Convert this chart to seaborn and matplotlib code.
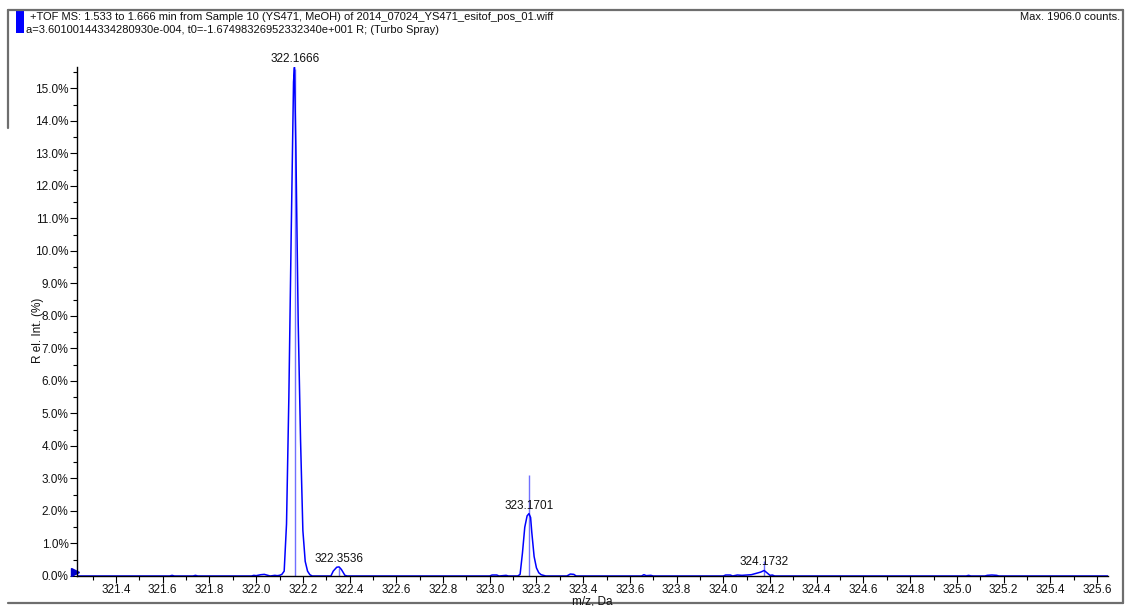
import matplotlib
matplotlib.use("Agg")
import matplotlib.pyplot as plt
import matplotlib.ticker as mticker
from matplotlib.lines import Line2D
from matplotlib.patches import Rectangle
import pandas as pd
import seaborn as sns

# ---------------------------
# Data
# ---------------------------

# profile trace, m/z (Da) and relative intensity (%)
profile_mz = [321.23, 321.63, 321.64, 321.65, 321.73, 321.74, 321.75,
              321.98, 321.99, 322.00, 322.02, 322.035, 322.05, 322.06,
              322.08, 322.09, 322.10, 322.11, 322.12, 322.13, 322.14,
              322.15, 322.16, 322.164, 322.17, 322.18, 322.19, 322.20,
              322.21, 322.22, 322.23, 322.24,
              322.32, 322.33, 322.345, 322.355, 322.365, 322.38, 322.39,
              323.00, 323.01, 323.03, 323.04, 323.07, 323.08,
              323.12, 323.13, 323.14, 323.15, 323.16, 323.168, 323.175,
              323.18, 323.19, 323.20, 323.21, 323.22, 323.24,
              323.33, 323.345, 323.36, 323.37,
              323.65, 323.66, 323.67, 323.69, 323.70,
              324.00, 324.01, 324.03, 324.04, 324.06, 324.08, 324.10,
              324.12, 324.14, 324.16, 324.175, 324.19, 324.20, 324.21, 324.22,
              325.04, 325.05, 325.06, 325.12, 325.13, 325.15, 325.17, 325.18,
              325.65]
profile_int = [0, 0, 0.02, 0, 0, 0.02, 0,
               0, 0.02, 0.01, 0.04, 0.05, 0.02, 0,
               0.02, 0.01, 0.02, 0.05, 0.15, 1.6, 5.5,
               10.5, 15.2, 15.65, 13.2, 7.8, 4.2, 1.4,
               0.45, 0.15, 0.04, 0,
               0, 0.15, 0.27, 0.28, 0.2, 0.02, 0,
               0, 0.03, 0.03, 0, 0.02, 0,
               0, 0.05, 0.7, 1.5, 1.85, 1.92, 1.8,
               1.35, 0.6, 0.25, 0.1, 0.04, 0,
               0, 0.06, 0.05, 0,
               0, 0.04, 0.01, 0.02, 0,
               0, 0.03, 0.03, 0, 0.03, 0.02, 0.03,
               0.04, 0.08, 0.12, 0.17, 0.08, 0.02, 0.03, 0,
               0, 0.02, 0, 0, 0.02, 0.03, 0.02, 0,
               0]

# centroid sticks
stick_mz = [322.1666, 322.3536, 323.1701, 324.1732]
stick_int = [15.6, 0.25, 3.1, 0.45]

# labelled peaks (label, apex height of profile)
peak_labels = ["322.1666", "322.3536", "323.1701", "324.1732"]
peak_apex = [15.65, 0.28, 1.92, 0.17]

title_1 = "+TOF MS: 1.533 to 1.666 min from Sample 10 (YS471, MeOH) of 2014_07024_YS471_esitof_pos_01.wiff"
title_2 = "a=3.60100144334280930e-004, t0=-1.67498326952332340e+001 R; (Turbo Spray)"
max_text = "Max. 1906.0 counts."

df = pd.DataFrame({"mz": profile_mz, "rel": profile_int})

# ---------------------------
# Plot
# ---------------------------

sns.set_theme(style="ticks")
plt.rcParams["font.family"] = ["Liberation Sans", "DejaVu Sans"]

W, H = 1127, 606
fig = plt.figure(figsize=(W / 100, H / 100), dpi=100)
ax = fig.add_axes([77 / W, 1 - 576 / H, (1108 - 77) / W, (576 - 67) / H])

sns.lineplot(data=df, x="mz", y="rel", ax=ax, color="#0000ff", lw=1.1,
             estimator=None, sort=False, zorder=2)
ax.vlines(stick_mz, 0, stick_int, color="#7070ff", lw=1, zorder=1.5)

for lab, apex in zip(peak_labels, peak_apex):
    ax.annotate(lab, xy=(float(lab), apex), xytext=(0, 1.5),
                textcoords="offset points", ha="center", va="bottom",
                fontsize=8.5, color="#111111", annotation_clip=False)

ax.set_xlim(321.233, 325.647)
ax.set_ylim(0, 15.66)

ax.xaxis.set_major_locator(mticker.MultipleLocator(0.2))
ax.xaxis.set_minor_locator(mticker.MultipleLocator(0.1))
ax.yaxis.set_major_locator(mticker.MultipleLocator(1.0))
ax.yaxis.set_minor_locator(mticker.MultipleLocator(0.5))
ax.xaxis.set_major_formatter(mticker.FormatStrFormatter("%.1f"))
ax.yaxis.set_major_formatter(mticker.FuncFormatter(lambda v, p: f"{v:.1f}%"))

ax.tick_params(axis="both", which="major", length=5, width=0.8,
               labelsize=8.5, color="black", labelcolor="#111111", pad=1)
ax.tick_params(axis="x", which="major", pad=0.5)
ax.tick_params(axis="both", which="minor", length=3, width=0.8, color="black")

sns.despine(ax=ax)
for s in ["left", "bottom"]:
    ax.spines[s].set_color("black")
    ax.spines[s].set_linewidth(1)
ax.set_xlabel("")
ax.set_ylabel("")

# origin marker
ax.plot(-2.5 / 1031, 4 / 509, marker=">", color="#0000cc", ms=6,
        transform=ax.transAxes, clip_on=False)

# axis titles
fig.text(38 / W, 1 - 330 / H, "R el. Int. (%)", rotation=90, ha="center",
         va="center", fontsize=8.5, color="#111111")
fig.text(592 / W, 1 - 601.5 / H, "m/z, Da", ha="center", va="center",
         fontsize=8.5, color="#111111")

# header
fig.text(30 / W, 1 - 16.5 / H, title_1, ha="left", va="center", fontsize=8,
         color="#111111")
fig.text(26 / W, 1 - 30 / H, title_2, ha="left", va="center", fontsize=8,
         color="#111111")
fig.text(1120 / W, 1 - 16.5 / H, max_text, ha="right", va="center", fontsize=8,
         color="#111111")
fig.add_artist(Rectangle((16 / W, 1 - 33 / H), 8 / W, 22 / H,
                         transform=fig.transFigure, color="#0000ff", lw=0))

# outer frame
frame = dict(transform=fig.transFigure, color="#6e6e6e", lw=1.6)
fig.add_artist(Line2D([8 / W, 1123 / W], [1 - 10 / H, 1 - 10 / H], **frame))
fig.add_artist(Line2D([1123 / W, 1123 / W], [1 - 10 / H, 1 - 603 / H], **frame))
fig.add_artist(Line2D([8 / W, 1123 / W], [1 - 603 / H, 1 - 603 / H], **frame))
fig.add_artist(Line2D([8 / W, 8 / W], [1 - 10 / H, 1 - 128 / H], **frame))

fig.savefig("out.png", dpi=100, facecolor="white")
plt.close(fig)
